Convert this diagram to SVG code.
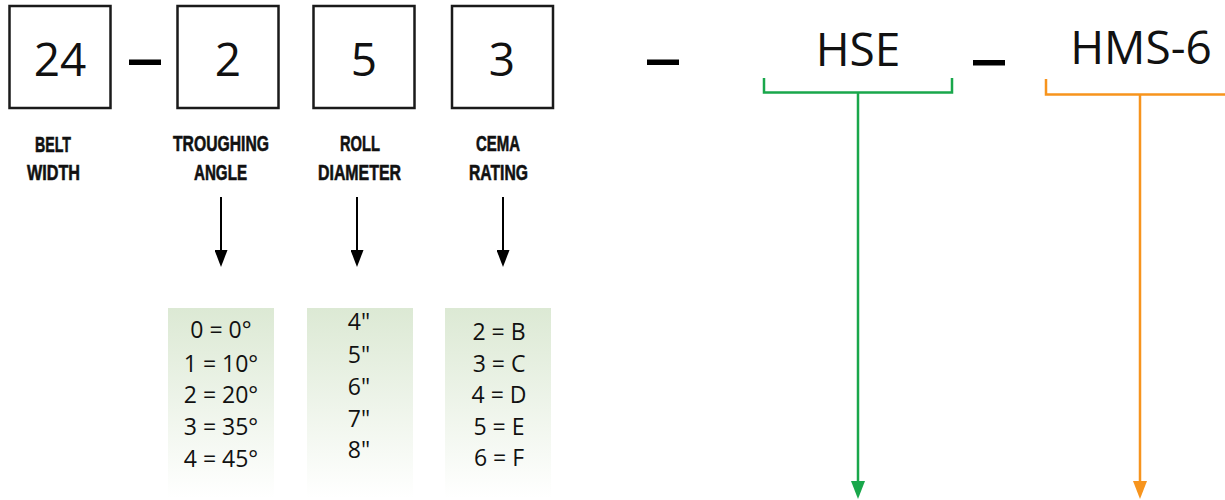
<svg xmlns="http://www.w3.org/2000/svg" width="1225" height="500" viewBox="0 0 1225 500">
  <style>
    .box { fill: #ffffff; stroke: #1a1a1a; stroke-width: 2.5; }
    .digit { font-family: "Open Sans", "Noto Sans", sans-serif; font-size: 46px; fill: #111; text-anchor: middle; }
    .code { font-family: "Open Sans", "Noto Sans", sans-serif; font-size: 46px; fill: #111; text-anchor: middle; }
    .lbl { font-family: "Liberation Sans", Arial, sans-serif; font-weight: bold; font-size: 22px; fill: #111; stroke: #111; stroke-width: 0.6; text-anchor: middle; }
    .item { font-family: "Open Sans", "Noto Sans", sans-serif; font-size: 23px; fill: #111; text-anchor: middle; }
    .dash { fill: #000; }
    .list { fill: url(#fade); }
    .blk { stroke: #000; stroke-width: 2; fill: none; }
    .grn { stroke: #19a74b; stroke-width: 2.5; fill: none; }
    .org { stroke: #f7941d; stroke-width: 2.5; fill: none; }
  </style>
  <defs>
    <linearGradient id="fade" x1="0" y1="0" x2="0" y2="1">
      <stop offset="0" stop-color="#dce9d4"/>
      <stop offset="1" stop-color="#ffffff"/>
    </linearGradient>
    <marker id="hBlk" markerUnits="userSpaceOnUse" viewBox="0 0 17 13" refX="1" refY="6.5" markerWidth="17" markerHeight="13" orient="auto">
      <path d="M0,0 L17,6.5 L0,13 Z" fill="#000"/>
    </marker>
    <marker id="hGrn" markerUnits="userSpaceOnUse" viewBox="0 0 18 14" refX="1" refY="7" markerWidth="18" markerHeight="14" orient="auto">
      <path d="M0,0 L18,7 L0,14 Z" fill="#19a74b"/>
    </marker>
    <marker id="hOrg" markerUnits="userSpaceOnUse" viewBox="0 0 18 14" refX="1" refY="7" markerWidth="18" markerHeight="14" orient="auto">
      <path d="M0,0 L18,7 L0,14 Z" fill="#f7941d"/>
    </marker>
  </defs>
  <rect width="1225" height="500" fill="#ffffff"/>

  <g id="belt-width">
    <rect class="box" x="9.5" y="6" width="101" height="102"/>
    <text class="digit" x="60" y="76">24</text>
    <text class="lbl" x="53" y="152" textLength="36" lengthAdjust="spacingAndGlyphs">BELT</text>
    <text class="lbl" x="53.5" y="180" textLength="53" lengthAdjust="spacingAndGlyphs">WIDTH</text>
  </g>

  <rect id="dash-1" class="dash" x="129" y="59.5" width="32" height="5.5"/>

  <g id="troughing-angle">
    <rect class="box" x="177.5" y="6" width="101" height="102"/>
    <text class="digit" x="228" y="76">2</text>
    <text class="lbl" x="221" y="151" textLength="96" lengthAdjust="spacingAndGlyphs">TROUGHING</text>
    <text class="lbl" x="220.5" y="180" textLength="53" lengthAdjust="spacingAndGlyphs">ANGLE</text>
  </g>

  <g id="roll-diameter">
    <rect class="box" x="313.5" y="6" width="101" height="102"/>
    <text class="digit" x="364" y="76">5</text>
    <text class="lbl" x="360" y="151" textLength="40" lengthAdjust="spacingAndGlyphs">ROLL</text>
    <text class="lbl" x="359.5" y="180" textLength="83" lengthAdjust="spacingAndGlyphs">DIAMETER</text>
  </g>

  <g id="cema-rating">
    <rect class="box" x="452" y="6" width="101" height="102"/>
    <text class="digit" x="502" y="76">3</text>
    <text class="lbl" x="498" y="151" textLength="44" lengthAdjust="spacingAndGlyphs">CEMA</text>
    <text class="lbl" x="498.5" y="180" textLength="59" lengthAdjust="spacingAndGlyphs">RATING</text>
  </g>

  <rect id="dash-2" class="dash" x="647" y="59.5" width="32" height="5.5"/>

  <g id="hse">
    <text class="code" x="858" y="66">HSE</text>
  </g>

  <rect id="dash-3" class="dash" x="973" y="60" width="32" height="5.5"/>

  <g id="hms-6">
    <text class="code" x="1141" y="63.5">HMS-6</text>
  </g>

  <g id="angle-list">
    <rect class="list" x="168" y="308" width="106" height="190"/>
    <text class="item" x="221" y="338">0 = 0°</text>
    <text class="item" x="221" y="371.5">1 = 10°</text>
    <text class="item" x="221" y="403">2 = 20°</text>
    <text class="item" x="221" y="435">3 = 35°</text>
    <text class="item" x="221" y="466.5">4 = 45°</text>
  </g>

  <g id="diameter-list">
    <rect class="list" x="307" y="308" width="106" height="190"/>
    <text class="item" x="359" y="330">4"</text>
    <text class="item" x="359" y="363">5"</text>
    <text class="item" x="359" y="395">6"</text>
    <text class="item" x="359" y="426.5">7"</text>
    <text class="item" x="359" y="458">8"</text>
  </g>

  <g id="rating-list">
    <rect class="list" x="445" y="308" width="106" height="190"/>
    <text class="item" x="499" y="339.5">2 = B</text>
    <text class="item" x="499" y="371.5">3 = C</text>
    <text class="item" x="499" y="403">4 = D</text>
    <text class="item" x="499" y="434.5">5 = E</text>
    <text class="item" x="499" y="466">6 = F</text>
  </g>

  <g id="connectors">
    <line class="blk" x1="221" y1="197" x2="221" y2="251" marker-end="url(#hBlk)"/>
    <line class="blk" x1="357" y1="197" x2="357" y2="251" marker-end="url(#hBlk)"/>
    <line class="blk" x1="503" y1="197" x2="503" y2="251" marker-end="url(#hBlk)"/>
    <path class="grn" d="M764,78 V92.5 H952 V78"/>
    <line class="grn" x1="858" y1="92.5" x2="858" y2="482" marker-end="url(#hGrn)"/>
    <path class="org" d="M1046,79 V94.5 H1225"/>
    <line class="org" x1="1140" y1="94.5" x2="1140" y2="482" marker-end="url(#hOrg)"/>
  </g>
</svg>
